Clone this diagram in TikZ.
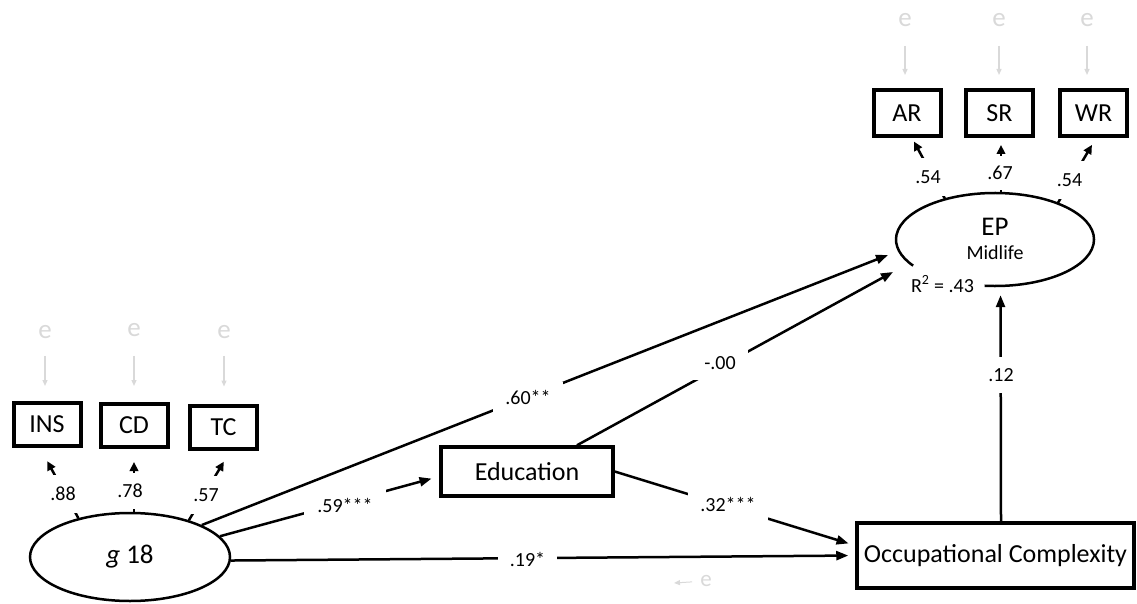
\documentclass[tikz,border=0pt]{standalone}
\usepackage{fontspec}
\setmainfont{Carlito}
\usetikzlibrary{arrows.meta,shapes.geometric}
\newcommand\NdFont{\fontsize{26}{31}\selectfont}
\newcommand\CfFont{\fontsize{20}{24}\selectfont}
\newcommand\LvFont{\fontsize{27}{32}\selectfont}
\tikzset{
  obsbox/.style={draw, line width=4pt, minimum width=67pt, minimum height=43pt, inner sep=0pt, font=\NdFont},
  latent/.style={ellipse, draw, line width=2.5pt, inner sep=0pt},
  regpath/.style={line width=2.5pt, -{Triangle[length=12pt,width=9pt]}},
  loadpath/.style={line width=2.5pt, -{Triangle[length=9pt,width=8.5pt]}},
  coef/.style={fill=white, inner sep=0pt, font=\CfFont},
  errlab/.style={text=gray!30, font=\LvFont, inner sep=0pt},
  errarr/.style={draw=gray!30, line width=1.3pt, -{Triangle[length=6pt,width=5pt]}}
}
\begin{document}
\begin{tikzpicture}[x=1pt,y=1pt]
\useasboundingbox (0,0) rectangle (1137,-604);
% latent and observed nodes
\node[latent, minimum width=200pt, minimum height=88pt, font=\LvFont] (g) at (130,-557) {{\itshape g} 18};
\node[obsbox] (INS) at (47,-424.5) {INS};
\node[obsbox] (CD) at (134,-425.5) {CD};
\node[obsbox] (TC) at (223.5,-427) {TC};
\node[obsbox, minimum height=46pt] (AR) at (907,-113) {AR};
\node[obsbox, minimum height=46pt] (SR) at (999.5,-113) {SR};
\node[obsbox, minimum height=46pt] (WR) at (1093.5,-113) {WR};
\node[obsbox, line width=3.5pt, minimum width=172pt, minimum height=49pt] (Edu) at (527,-471.5) {Education};
\node[obsbox, line width=3.5pt, minimum width=277pt, minimum height=65pt] (OC) at (995.5,-555.5) {Occupational Complexity};
\node[ellipse, minimum width=198pt, minimum height=93pt, inner sep=0pt] (EP) at (995,-239.5) {};
\draw[line width=2.5pt] (EP.center) ++(264:99pt and 46.5pt) arc[start angle=264, end angle=574.2, x radius=99pt, y radius=46.5pt];
\node[font=\LvFont, inner sep=0pt] (EPt) at (995,-226.5) {EP};
\node[font=\CfFont, inner sep=0pt] (EPm) at (995,-253) {Midlife};
\node[font=\CfFont, inner sep=0pt] (R2) at (942.5,-284) {R\textsuperscript{2} = .43};
% structural paths
\draw[regpath] (g.24) -- ([shift={(-107pt,-15.5pt)}]EP.center);
\draw[regpath, shorten >=8pt] (g.13) -- ([yshift=-5pt]Edu.west);
\draw[regpath, shorten >=7pt] (g.-2) -- (OC.west);
\draw[regpath] ([xshift=50pt]Edu.north) -- ([shift={(-102pt,-32.5pt)}]EP.center);
\draw[regpath, shorten >=7pt] (Edu.east) -- ([yshift=10pt]OC.west);
\draw[regpath, shorten >=9pt] ([xshift=5.5pt]OC.north) -- ([xshift=5.5pt]EP.south);
% loadings
\draw[loadpath, shorten >=15pt] (g.143) -- ([xshift=-7pt]INS.south);
\draw[loadpath, shorten >=13pt] ([xshift=4pt]g.north) -- (CD.south);
\draw[loadpath, shorten >=13pt] (g.32) -- ([xshift=7pt]TC.south);
\draw[loadpath, shorten >=4pt] (EP.141) -- ([xshift=5pt]AR.south);
\draw[loadpath, shorten >=7pt] ([xshift=6pt]EP.north) -- ([xshift=1.5pt]SR.south);
\draw[loadpath, shorten >=8pt] (EP.30) -- ([xshift=2.5pt]WR.south);
% error terms
\node[errlab] (eINS) at (45,-332) {e};
\node[errlab] (eCD) at (134,-330) {e};
\node[errlab] (eTC) at (224,-332) {e};
\node[errlab] (eAR) at (905,-20) {e};
\node[errlab] (eSR) at (999,-20) {e};
\node[errlab] (eWR) at (1087,-20) {e};
\draw[errarr, shorten <=17pt, shorten >=15pt] (eINS) -- (eINS |- INS.north);
\draw[errarr, shorten <=19pt, shorten >=16pt] (eCD) -- (eCD |- CD.north);
\draw[errarr, shorten <=17pt, shorten >=17pt] (eTC) -- (eTC |- TC.north);
\draw[errarr, shorten <=19pt, shorten >=13pt] (eAR) -- (eAR |- AR.north);
\draw[errarr, shorten <=19pt, shorten >=13pt] (eSR) -- (eSR |- SR.north);
\draw[errarr, shorten <=19pt, shorten >=13pt] (eWR) -- (eWR |- WR.north);
\node[errlab, font=\fontsize{23}{27}\selectfont] (eOC) at (706,-581) {e};
\coordinate (eOCtip) at (674,-583);
\draw[errarr, line width=1pt, shorten <=8pt] (eOC) -- (eOCtip);
% coefficient labels
\node[coef, minimum width=70pt, minimum height=30pt] (c60) at (528,-397) {.60**};
\node[coef, minimum width=82pt, minimum height=34pt] (c59) at (345,-505) {.59***};
\node[coef, minimum width=56pt, minimum height=34pt] (c00) at (720,-363) {-.00};
\node[coef, minimum width=80pt, minimum height=38pt] (c32) at (728,-504) {.32***};
\node[coef, minimum width=59pt, minimum height=26pt] (c19) at (527.5,-559) {.19*};
\node[coef, minimum width=30pt, minimum height=36pt] (c12) at (1001,-375) {.12};
\node[coef, minimum width=32pt, minimum height=38pt] (l88) at (63,-494) {.88};
\node[coef, minimum width=28pt, minimum height=36pt] (l78) at (130,-491) {.78};
\node[coef, minimum width=32pt, minimum height=38pt] (l57) at (206,-495) {.57};
\node[coef, minimum width=34pt, minimum height=38pt] (l54a) at (928,-177) {.54};
\node[coef, minimum width=28pt, minimum height=34pt] (l67) at (1000,-173) {.67};
\node[coef, minimum width=28pt, minimum height=38pt] (l54b) at (1069.5,-180) {.54};
\end{tikzpicture}
\end{document}
